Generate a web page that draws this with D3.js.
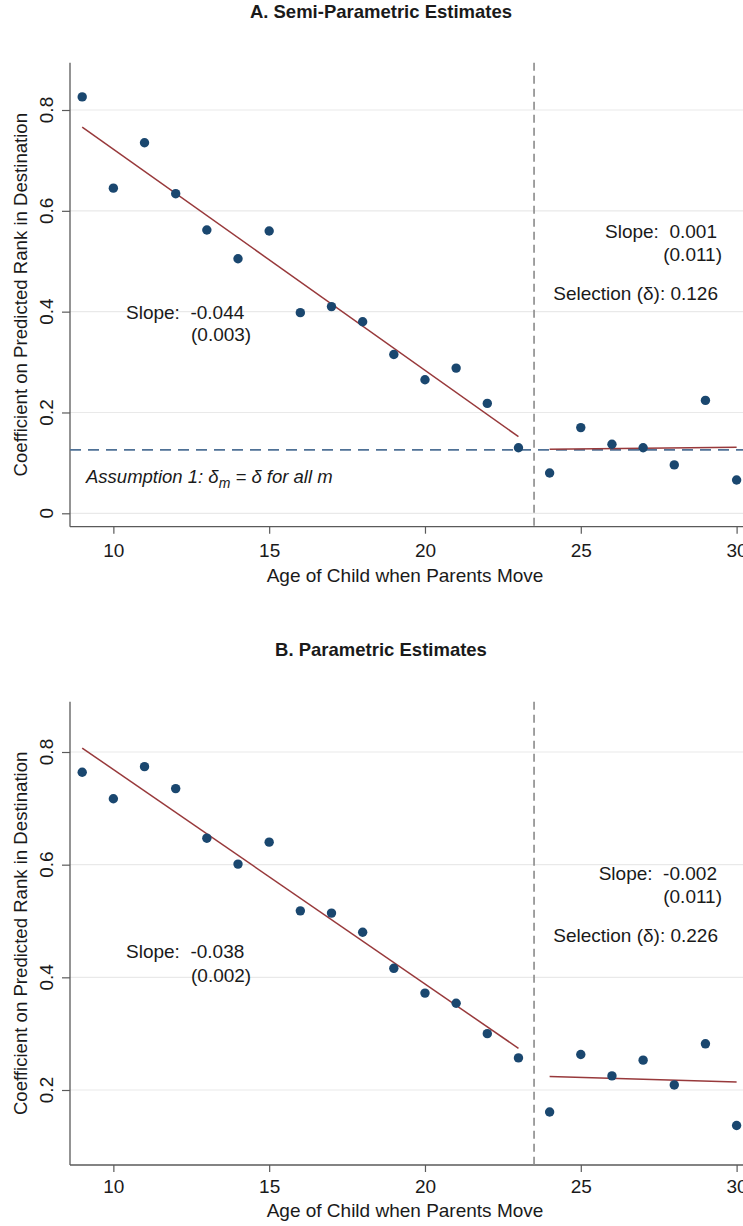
<!DOCTYPE html>
<html>
<head>
<meta charset="utf-8">
<script src="https://cdn.jsdelivr.net/npm/d3@7"></script>
<style>
  html, body { margin: 0; padding: 0; background: #fff; }
  svg { display: block; }
  text { font-family: "Liberation Sans", Arial, Helvetica, sans-serif; fill: #1a1a1a; }
</style>
</head>
<body>
<script>
// ---------- data ----------
const ages = [9,10,11,12,13,14,15,16,17,18,19,20,21,22,23,24,25,26,27,28,29,30];
const semiParamCoef = [0.826,0.645,0.735,0.634,0.562,0.505,0.560,0.398,0.410,0.380,0.315,0.265,0.288,0.218,0.130,0.080,0.170,0.137,0.130,0.096,0.224,0.066];
const paramCoef     = [0.764,0.717,0.774,0.735,0.647,0.601,0.640,0.518,0.514,0.480,0.416,0.372,0.354,0.300,0.257,0.161,0.263,0.225,0.253,0.209,0.282,0.137];
// fitted line endpoints [age, value]
const semiFitLeft  = [[9,0.766],[23,0.152]];
const semiFitRight = [[24,0.127],[30,0.131]];
const paramFitLeft  = [[9,0.807],[23,0.274]];
const paramFitRight = [[24,0.224],[30,0.214]];
const selectionDelta = 0.126;
const breakAge = 23.5;
const xTicks = [10,15,20,25,30];
const yTicksA = [0,0.2,0.4,0.6,0.8];
const yTicksB = [0.2,0.4,0.6,0.8];
const titles = ["A. Semi-Parametric Estimates","B. Parametric Estimates"];
const xLabel = "Age of Child when Parents Move";
const yLabel = "Coefficient on Predicted Rank in Destination";

const W = 743, H = 1226;
const svg = d3.select("body").append("svg").attr("width", W).attr("height", H);

const NAVY = "#1a476f", MAROON = "#98393b", GRID = "#e9e9e9", AXIS = "#5a5a5a";

const x = d3.scaleLinear().domain([9,30]).range([82.2, 736.6]);
const plotLeft = 70, plotRight = 760;

function panel(cfg) {
  const g = svg.append("g");
  const y = d3.scaleLinear().domain(cfg.yDom).range(cfg.yRange);
  const top = cfg.top, bottom = cfg.bottom;

  // title
  g.append("text").attr("x", 381).attr("y", cfg.titleY).attr("text-anchor","middle")
    .style("font-weight","bold").style("font-size","18.5px").text(cfg.title);

  // gridlines
  g.selectAll(".grid").data(cfg.yTicks).enter().append("line")
    .attr("x1", plotLeft).attr("x2", plotRight)
    .attr("y1", d => y(d)).attr("y2", d => y(d))
    .attr("stroke", GRID).attr("stroke-width", 1.2);

  // y axis
  const ya = g.append("g").attr("transform", `translate(${plotLeft},0)`)
    .call(d3.axisLeft(y).tickValues(cfg.yTicks).tickSize(8).tickFormat(d3.format("~g")));
  ya.select(".domain").remove();
  ya.selectAll(".tick line").attr("stroke", AXIS).attr("stroke-width", 1.2);
  ya.selectAll(".tick text").remove();
  g.selectAll(".ytl").data(cfg.yTicks).enter().append("text")
    .attr("transform", d => `translate(53,${y(d)}) rotate(-90)`)
    .attr("text-anchor","middle").style("font-size","19px")
    .text(d => d3.format("~g")(d));
  g.append("line").attr("x1", plotLeft).attr("x2", plotLeft).attr("y1", top).attr("y2", bottom)
    .attr("stroke", AXIS).attr("stroke-width", 1.3);

  // x axis
  const xa = g.append("g").attr("transform", `translate(0,${bottom})`)
    .call(d3.axisBottom(x).tickValues(xTicks).tickSize(7).tickFormat(d3.format("d")));
  xa.select(".domain").remove();
  xa.selectAll(".tick line").attr("stroke", AXIS).attr("stroke-width", 1.2);
  xa.selectAll(".tick text").attr("y", cfg.xTickBase - bottom).attr("dy", 0)
    .style("font-size","19px").style("fill","#1a1a1a")
    .style("font-family", '"Liberation Sans", Arial, sans-serif');
  g.append("line").attr("x1", plotLeft).attr("x2", plotRight).attr("y1", bottom).attr("y2", bottom)
    .attr("stroke", AXIS).attr("stroke-width", 1.3);

  // axis titles
  g.append("text").attr("x", 405).attr("y", cfg.xLabelY).attr("text-anchor","middle")
    .style("font-size","19px").text(xLabel);
  g.append("text").attr("transform", `translate(27,${(top+bottom)/2}) rotate(-90)`)
    .attr("text-anchor","middle").style("font-size","18.6px").text(yLabel);

  // vertical dashed break line
  g.append("line").attr("x1", x(breakAge)).attr("x2", x(breakAge)).attr("y1", top).attr("y2", bottom)
    .attr("stroke", "#8a8a8a").attr("stroke-width", 1.6).attr("stroke-dasharray", "8,5");

  // horizontal selection line
  if (cfg.delta !== undefined) {
    g.append("line").attr("x1", plotLeft).attr("x2", plotRight)
      .attr("y1", y(cfg.delta)).attr("y2", y(cfg.delta))
      .attr("stroke", "#4f7196").attr("stroke-width", 1.7).attr("stroke-dasharray", "11,7");
  }

  // fit lines
  const line = d3.line().x(d => x(d[0])).y(d => y(d[1]));
  [cfg.fitL, cfg.fitR].forEach(f => {
    g.append("path").attr("d", line(f)).attr("fill","none")
      .attr("stroke", MAROON).attr("stroke-width", 1.5);
  });

  // points
  g.selectAll(".pt").data(ages.map((a,i) => [a, cfg.vals[i]])).enter().append("circle")
    .attr("cx", d => x(d[0])).attr("cy", d => y(d[1])).attr("r", 4.7).attr("fill", NAVY);

  // annotations
  cfg.notes.forEach(n => {
    g.append("text").attr("x", n.x).attr("y", n.y).attr("text-anchor", n.anchor || "start")
      .style("font-size","19px").style("white-space","pre").attr("xml:space","preserve").text(n.t);
  });
  if (cfg.assumption) {
    const t = g.append("text").attr("x", 86).attr("y", cfg.assumption)
      .style("font-size","18.5px").style("font-style","italic");
    t.append("tspan").text("Assumption 1: δ");
    t.append("tspan").attr("dy", 5).style("font-size","14px").text("m");
    t.append("tspan").attr("dy", -5).text(" = δ for all m");
  }
}

panel({
  title: titles[0], titleY: 18,
  yDom: [0,0.8], yRange: [513.3,110], yTicks: yTicksA,
  top: 62.7, bottom: 526.7, xTickBase: 557, xLabelY: 582,
  vals: semiParamCoef, fitL: semiFitLeft, fitR: semiFitRight, delta: selectionDelta,
  notes: [
    {x:126, y:319, t:"Slope:  -0.044"},
    {x:191, y:341, t:"(0.003)"},
    {x:717, y:238, t:"Slope:  0.001", anchor:"end"},
    {x:722, y:261, t:"(0.011)", anchor:"end"},
    {x:718, y:300, t:"Selection (δ): 0.126", anchor:"end"}
  ],
  assumption: 483
});

panel({
  title: titles[1], titleY: 656,
  yDom: [0.2,0.8], yRange: [1090,752], yTicks: yTicksB,
  top: 701.7, bottom: 1165, xTickBase: 1193, xLabelY: 1217,
  vals: paramCoef, fitL: paramFitLeft, fitR: paramFitRight,
  notes: [
    {x:126, y:958, t:"Slope:  -0.038"},
    {x:191, y:981.7, t:"(0.002)"},
    {x:717, y:880, t:"Slope:  -0.002", anchor:"end"},
    {x:722, y:903, t:"(0.011)", anchor:"end"},
    {x:718, y:941.7, t:"Selection (δ): 0.226", anchor:"end"}
  ]
});
</script>
</body>
</html>
